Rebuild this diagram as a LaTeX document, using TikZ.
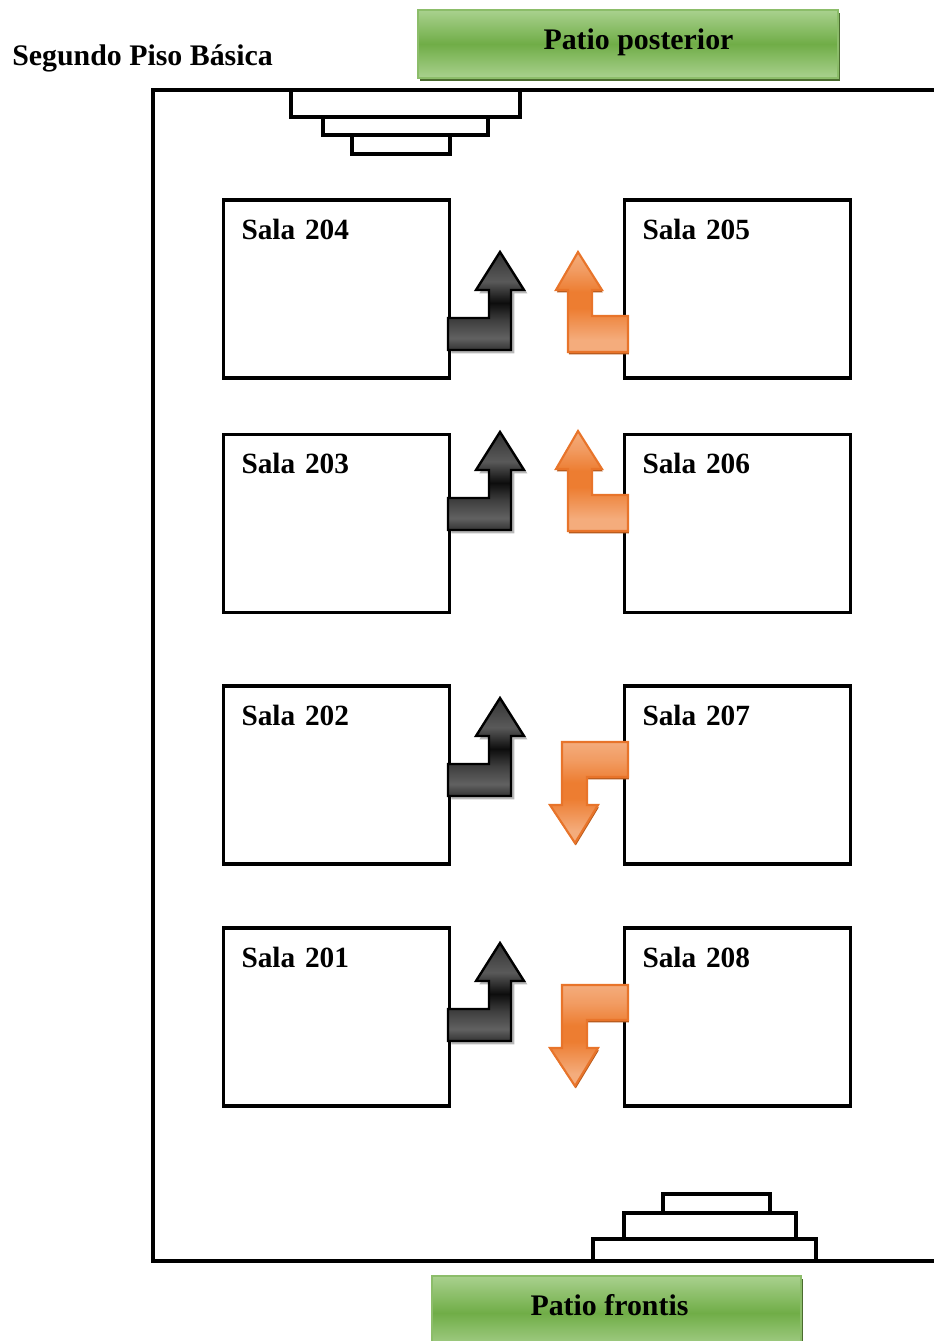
\documentclass[tikz,border=0pt]{standalone}
\usepackage{fontspec}
\setmainfont{Liberation Serif}
\usepackage{tikz}
\usetikzlibrary{shadows}
\definecolor{patiogreen}{HTML}{70AD47}
\definecolor{patiolight}{HTML}{A9D18E}
\definecolor{patioedge}{HTML}{8CBD6A}
\definecolor{patioshadow}{HTML}{4A6B2E}
\definecolor{stairorange}{HTML}{ED7D31}
\definecolor{stairlight}{HTML}{F4AC7C}
\definecolor{stairedge}{HTML}{E8742A}
\definecolor{stairshadow}{HTML}{B5591C}
\pgfdeclareverticalshading{darkstair}{100bp}{color(0bp)=(black!80); color(25bp)=(black!80); color(31bp)=(black!62); color(40bp)=(black!75); color(49bp)=(black!95); color(60bp)=(black!65); color(75bp)=(black!80); color(100bp)=(black!80)}
\pgfdeclareverticalshading{orangestair}{100bp}{color(0bp)=(stairlight); color(25bp)=(stairlight); color(31bp)=(stairlight); color(47bp)=(stairorange); color(55bp)=(stairorange); color(66bp)=(stairlight!65!stairorange); color(75bp)=(stairlight); color(100bp)=(stairlight)}
\tikzset{
    plan/.style={x=0.75pt,y=-0.75pt,line join=miter},
    wall/.style={line width=2.4pt},
    stairs/.style={wall,fill=white},
    sala/.style={draw,wall,anchor=north west,align=left,outer sep=0pt,inner xsep=13.5pt,inner ysep=0pt,
                 text width=142.5pt,text height=29.5pt,text depth=104pt,font=\fontsize{22}{24}\selectfont\bfseries},
    patio/.style={draw=patioedge,line width=0.8pt,top color=patiolight,bottom color=patiolight,middle color=patiogreen,
                  drop shadow={shadow xshift=1.5pt,shadow yshift=-2.2pt,fill=patioshadow,opacity=1}},
    caption/.style={inner sep=0pt,anchor=base,font=\fontsize{22.4}{24}\selectfont\bfseries},
    darkflecha/.style={draw=black,line width=1.8pt,shading=darkstair,
                  drop shadow={shadow xshift=2.5pt,shadow yshift=-2.5pt,fill=gray!70,opacity=.8}},
    orangeflecha/.style={draw=stairedge,line width=1.6pt,shading=orangestair,
                  drop shadow={shadow xshift=0.6pt,shadow yshift=-1.8pt,fill=stairshadow,opacity=1}},
    pics/darkup/.style={code={
        \path[darkflecha] (0,0) -- (63,0) -- (63,-60) -- (76,-60) -- (52,-98) -- (28,-60) -- (41,-60) -- (41,-32) -- (0,-32) -- cycle;
    }},
    pics/orangeup/.style={code={
        \path[orangeflecha] (0,0) -- (-60,0) -- (-60,-62) -- (-72,-62) -- (-50,-100) -- (-26,-62) -- (-36,-62) -- (-36,-36) -- (0,-36) -- cycle;
    }},
    pics/orangedown/.style={code={
        \path[orangeflecha] (0,0) -- (-66,0) -- (-66,63) -- (-78,63) -- (-53,101) -- (-30,63) -- (-41,63) -- (-41,35) -- (0,35) -- cycle;
    }},
}
\begin{document}
\begin{tikzpicture}[plan]
    \useasboundingbox (0,0) rectangle (934,1341);

    % edificio
    \draw[wall] (934,90) -- (153,90) -- (153,1261) -- (934,1261);
    \draw[stairs] (352,135) rectangle (450,154);
    \draw[stairs] (323,117) rectangle (488,135);
    \draw[stairs] (291,90) rectangle (520,117);
    \draw[stairs] (663,1194) rectangle (770,1213);
    \draw[stairs] (624,1213) rectangle (796,1239);
    \draw[stairs] (593,1239) rectangle (816,1261);

    \node[caption,anchor=base west] (titulo) at (12,66) {Segundo Piso Básica};

    \node[patio,minimum width=315pt,minimum height=51pt] (posterior) at (628,44) {};
    \node[caption] (tposterior) at (638.5,50) {Patio posterior};
    \node[patio,minimum width=276.75pt,minimum height=55.5pt] (frontis) at (616.5,1313) {};
    \node[caption] (tfrontis) at (609.5,1315) {Patio frontis};

    \node[sala] (s204) at (223.5,200) {Sala 204};
    \node[sala] (s203) at (223.5,434.5) {Sala 203};
    \node[sala] (s202) at (223.5,686) {Sala 202};
    \node[sala] (s201) at (223.5,928) {Sala 201};
    \node[sala] (s205) at (624.5,200) {Sala 205};
    \node[sala] (s206) at (624.5,434.5) {Sala 206};
    \node[sala] (s207) at (624.5,686) {Sala 207};
    \node[sala] (s208) at (624.5,928) {Sala 208};

    % flechas
    \pic at (448,350) {darkup};
    \pic at (448,530) {darkup};
    \pic at (448,796) {darkup};
    \pic at (448,1041) {darkup};
    \pic at (628,352) {orangeup};
    \pic at (628,531) {orangeup};
    \pic at (628,742) {orangedown};
    \pic at (628,985) {orangedown};
\end{tikzpicture}
\end{document}
